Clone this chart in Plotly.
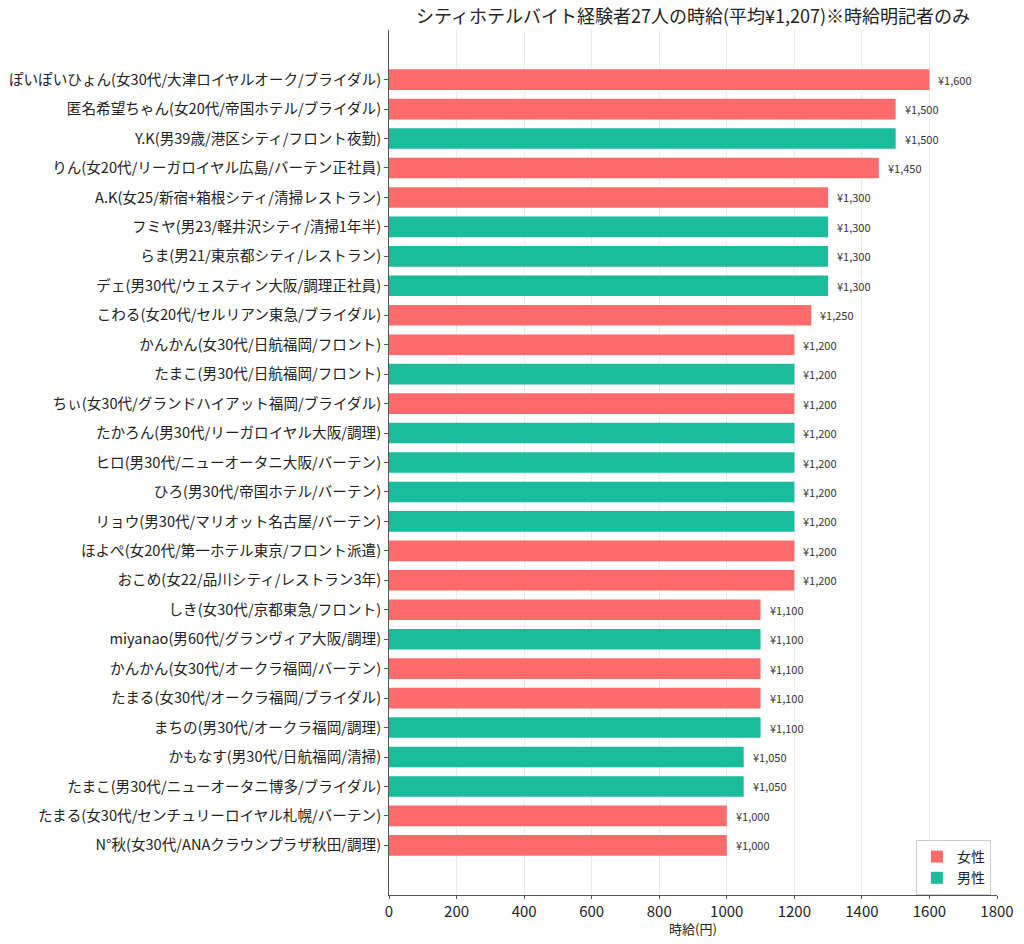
import plotly.graph_objects as go

names = [
    "ぽいぽいひょん(女30代/大津ロイヤルオーク/ブライダル)",
    "匿名希望ちゃん(女20代/帝国ホテル/ブライダル)",
    "Y.K(男39歳/港区シティ/フロント夜勤)",
    "りん(女20代/リーガロイヤル広島/バーテン正社員)",
    "A.K(女25/新宿+箱根シティ/清掃レストラン)",
    "フミヤ(男23/軽井沢シティ/清掃1年半)",
    "らま(男21/東京都シティ/レストラン)",
    "デェ(男30代/ウェスティン大阪/調理正社員)",
    "こわる(女20代/セルリアン東急/ブライダル)",
    "かんかん(女30代/日航福岡/フロント)",
    "たまこ(男30代/日航福岡/フロント)",
    "ちぃ(女30代/グランドハイアット福岡/ブライダル)",
    "たかろん(男30代/リーガロイヤル大阪/調理)",
    "ヒロ(男30代/ニューオータニ大阪/バーテン)",
    "ひろ(男30代/帝国ホテル/バーテン)",
    "リョウ(男30代/マリオット名古屋/バーテン)",
    "ほよぺ(女20代/第一ホテル東京/フロント派遣)",
    "おこめ(女22/品川シティ/レストラン3年)",
    "しき(女30代/京都東急/フロント)",
    "miyanao(男60代/グランヴィア大阪/調理)",
    "かんかん(女30代/オークラ福岡/バーテン)",
    "たまる(女30代/オークラ福岡/ブライダル)",
    "まちの(男30代/オークラ福岡/調理)",
    "かもなす(男30代/日航福岡/清掃)",
    "たまこ(男30代/ニューオータニ博多/ブライダル)",
    "たまる(女30代/センチュリーロイヤル札幌/バーテン)",
    "N°秋(女30代/ANAクラウンプラザ秋田/調理)",
]
wages = [1600, 1500, 1500, 1450, 1300, 1300, 1300, 1300, 1250,
         1200, 1200, 1200, 1200, 1200, 1200, 1200, 1200, 1200,
         1100, 1100, 1100, 1100, 1100, 1050, 1050, 1000, 1000]
genders = ["女", "女", "男", "女", "女", "男", "男", "男", "女",
           "女", "男", "女", "男", "男", "男", "男", "女", "女",
           "女", "男", "女", "女", "男", "男", "男", "女", "女"]

title = "シティホテルバイト経験者27人の時給(平均¥1,207)※時給明記者のみ"
x_title = "時給(円)"
colors = {"女": "#FF6B6B", "男": "#1ABC9C"}
legend_names = {"女": "女性", "男": "男性"}

n = len(names)
pos = [n - 1 - i for i in range(n)]  # first item on top

fig = go.Figure()
for g in ["女", "男"]:
    idx = [i for i in range(n) if genders[i] == g]
    fig.add_trace(go.Bar(
        x=[wages[i] for i in idx],
        y=[pos[i] for i in idx],
        orientation="h",
        marker=dict(color=colors[g], line=dict(width=0)),
        width=0.7,
        name=legend_names[g],
    ))

for i in range(n):
    fig.add_annotation(
        x=wages[i], y=pos[i], text=f"¥{wages[i]:,}",
        xanchor="left", yanchor="middle", xshift=7, showarrow=False,
        font=dict(size=11, color="#333333"),
    )

# x-axis title as annotation for precise placement
fig.add_annotation(
    x=0.5, y=0, xref="paper", yref="paper", text=x_title, showarrow=False,
    xanchor="center", yanchor="middle", yshift=-33,
    font=dict(size=13, color="#222222"),
)

fig.update_layout(
    width=1024, height=944,
    margin=dict(l=389, r=27, t=30, b=49, autoexpand=False),
    paper_bgcolor="white", plot_bgcolor="white",
    barmode="overlay",
    font=dict(family="Noto Sans CJK JP", color="#222222"),
    title=dict(text=title, x=0.5, xref="paper", xanchor="center",
               y=0.982, yanchor="middle", font=dict(size=18, color="#222222")),
    showlegend=True,
    legend=dict(x=0.99, y=0.0, xanchor="right", yanchor="bottom",
                bordercolor="#cccccc", borderwidth=1, bgcolor="rgba(255,255,255,0.8)",
                font=dict(size=14), traceorder="normal"),
)
fig.update_xaxes(
    range=[0, 1800], dtick=200, showgrid=True, gridcolor="#ebebeb", gridwidth=1,
    showline=True, linecolor="#555555", linewidth=1, ticks="outside", ticklen=3,
    tickcolor="#555555", tickfont=dict(size=15), zeroline=False, automargin=False,
)
fig.update_yaxes(
    range=[-1.685, n - 1 + 1.685], tickmode="array", tickvals=pos, ticktext=names,
    showgrid=False, showline=True, linecolor="#555555", linewidth=1,
    ticks="outside", ticklen=4, tickcolor="#555555", tickfont=dict(size=14.6),
    zeroline=False, automargin=False,
)

fig.write_html("out.html")
